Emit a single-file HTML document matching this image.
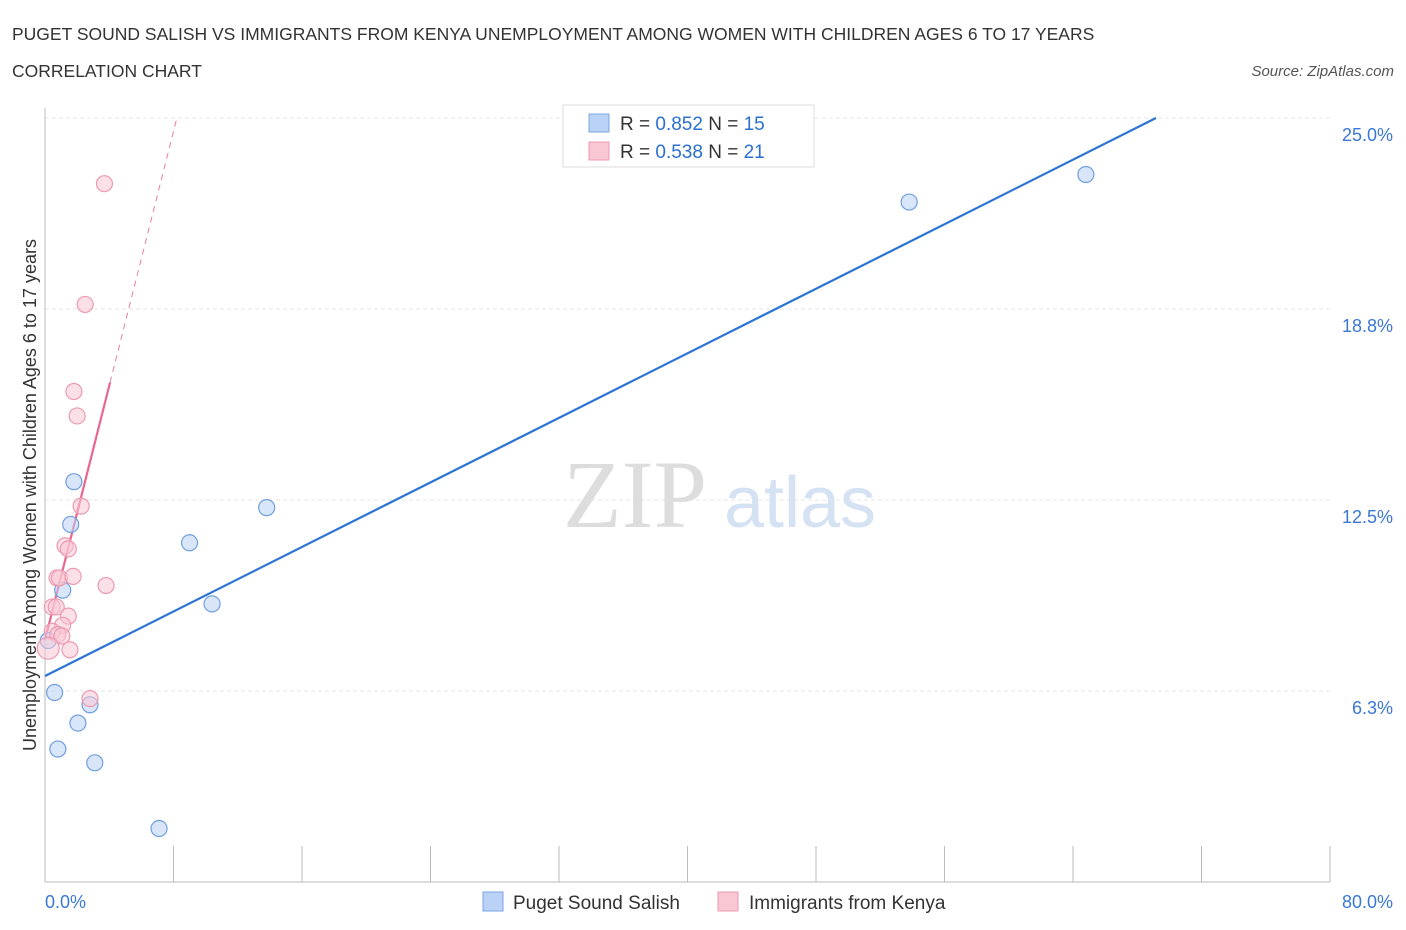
<!DOCTYPE html>
<html><head><meta charset="utf-8"><style>
body{margin:0;background:#fff;font-family:"Liberation Sans",sans-serif;}
svg{display:block}
</style></head><body>
<svg width="1406" height="930" xmlns="http://www.w3.org/2000/svg">
<text x="12" y="40" font-size="17.5" fill="#333">PUGET SOUND SALISH VS IMMIGRANTS FROM KENYA UNEMPLOYMENT AMONG WOMEN WITH CHILDREN AGES 6 TO 17 YEARS</text>
<text x="12" y="77" font-size="17.5" fill="#333">CORRELATION CHART</text>
<text x="1394" y="76" font-size="15" fill="#555" font-style="italic" text-anchor="end">Source: ZipAtlas.com</text>
<g id="grid"></g>
<g><text x="635" y="527" font-size="96" fill="#ddd" font-family="Liberation Serif" text-anchor="middle">ZIP</text><text x="800" y="527" font-size="72" fill="#d4e2f3" text-anchor="middle">atlas</text></g>
<g id="axes"></g>
<g id="marks"></g>
<text x="36" y="495" font-size="18" fill="#333" text-anchor="middle" transform="rotate(-90 36 495)">Unemployment Among Women with Children Ages 6 to 17 years</text>
<g>
<rect x="563" y="105" width="251" height="62" fill="#fff" stroke="#ddd"/>
<rect x="589" y="114" width="20" height="18" fill="#b9d2f5" stroke="#7aa6e3"/>
<text x="620" y="130" font-size="19" fill="#333">R = <tspan fill="#2b6fd1">0.852</tspan>   N = <tspan fill="#2b6fd1">15</tspan></text>
<rect x="589" y="142" width="20" height="18" fill="#f9c6d4" stroke="#ec9ab2"/>
<text x="620" y="158" font-size="19" fill="#333">R = <tspan fill="#2b6fd1">0.538</tspan>   N = <tspan fill="#2b6fd1">21</tspan></text>
</g>
<g>
<rect x="483" y="892" width="20" height="19" fill="#b9d2f5" stroke="#7aa6e3"/>
<text x="513" y="909" font-size="19" fill="#333">Puget Sound Salish</text>
<rect x="718" y="892" width="20" height="19" fill="#f9c6d4" stroke="#ec9ab2"/>
<text x="749" y="909" font-size="19" fill="#333">Immigrants from Kenya</text>
</g>
</svg>
<script>
const blueX=[0.2,0.6,0.8,1.1,1.6,1.8,2.05,2.8,3.1,7.1,9.0,10.4,13.8,53.8,64.8];
const blueY=[7.9,6.2,4.35,9.55,11.7,13.1,5.2,5.8,3.9,1.75,11.1,9.1,12.25,22.25,23.15];
const pinkX=[3.7,2.5,1.8,2.0,2.25,1.25,1.45,0.75,0.9,1.75,3.8,0.45,0.7,1.45,1.1,0.45,0.8,1.05,1.55,0.2,2.8];
const pinkY=[22.85,18.9,16.05,15.25,12.3,11.0,10.9,9.95,9.95,10.0,9.7,9.0,9.0,8.7,8.4,8.2,8.1,8.05,7.6,7.65,6.0];
const yTicks=[6.25,12.5,18.75,25];
const yTickLabels=["6.3%","12.5%","18.8%","25.0%"];
const blueFit=[6.74,0.264];
const pinkFit=[7.92,2.08];
const NS="http://www.w3.org/2000/svg";
const sx=v=>45+v*(1285/80), sy=v=>882-v*(764/25);
function mk(t,a,p){const e=document.createElementNS(NS,t);for(const k in a)e.setAttribute(k,a[k]);p.appendChild(e);return e;}
const grid=document.getElementById('grid'),axes=document.getElementById('axes'),marks=document.getElementById('marks');
yTicks.forEach((t,i)=>{
 const l=mk('line',{x1:45,x2:1330,y1:sy(t),y2:sy(t),stroke:'#e4e4e4','stroke-dasharray':'4,3'},grid);
 
 
 const tx=mk('text',{x:1393,y:sy(t)+23,'font-size':18,fill:'#3a78d4','text-anchor':'end'},axes);
 tx.textContent=yTickLabels[i];
 
 
});
mk('line',{x1:45,x2:45,y1:108,y2:882,stroke:'#bbb'},axes);
mk('line',{x1:45,x2:1330,y1:882,y2:882,stroke:'#bbb'},axes);
for(let i=0;i<=10;i++){const t=mk('line',{x1:sx(i*8),x2:sx(i*8),y1:846,y2:882,stroke:'#bbb'},axes);
 
 }
let a=mk('text',{x:45,y:908,'font-size':18,fill:'#3a78d4'},axes);a.textContent='0.0%';
let b=mk('text',{x:1393,y:908,'font-size':18,fill:'#3a78d4','text-anchor':'end'},axes);b.textContent='80.0%';
const bx2=(25-blueFit[0])/blueFit[1];
const bl=mk('line',{x1:sx(0),y1:sy(blueFit[0]),x2:sx(bx2),y2:sy(25),stroke:'#2b74d6','stroke-width':2.2},marks);


const px2=(25-pinkFit[0])/pinkFit[1];
const pd=mk('line',{x1:sx(4.05),y1:sy(pinkFit[0]+pinkFit[1]*4.05),x2:sx(px2),y2:sy(25),stroke:'#e87fa0','stroke-width':1,'stroke-dasharray':'6,5'},marks);


const ps=mk('line',{x1:sx(0),y1:sy(pinkFit[0]),x2:sx(4.05),y2:sy(pinkFit[0]+pinkFit[1]*4.05),stroke:'#e8668f','stroke-width':2.2},marks);


blueX.forEach((x,i)=>{const c=mk('circle',{cx:sx(x),cy:sy(blueY[i]),r:8,fill:'rgba(185,210,245,0.55)',stroke:'#6f9fe0','stroke-width':1.2},marks);
 
 });
pinkX.forEach((x,i)=>{const c=mk('circle',{cx:sx(x),cy:sy(pinkY[i]),r:i==19?11:8,fill:'rgba(249,198,212,0.55)',stroke:'#ec9ab2','stroke-width':1.2},marks);
 
 });
</script>
</body></html>
